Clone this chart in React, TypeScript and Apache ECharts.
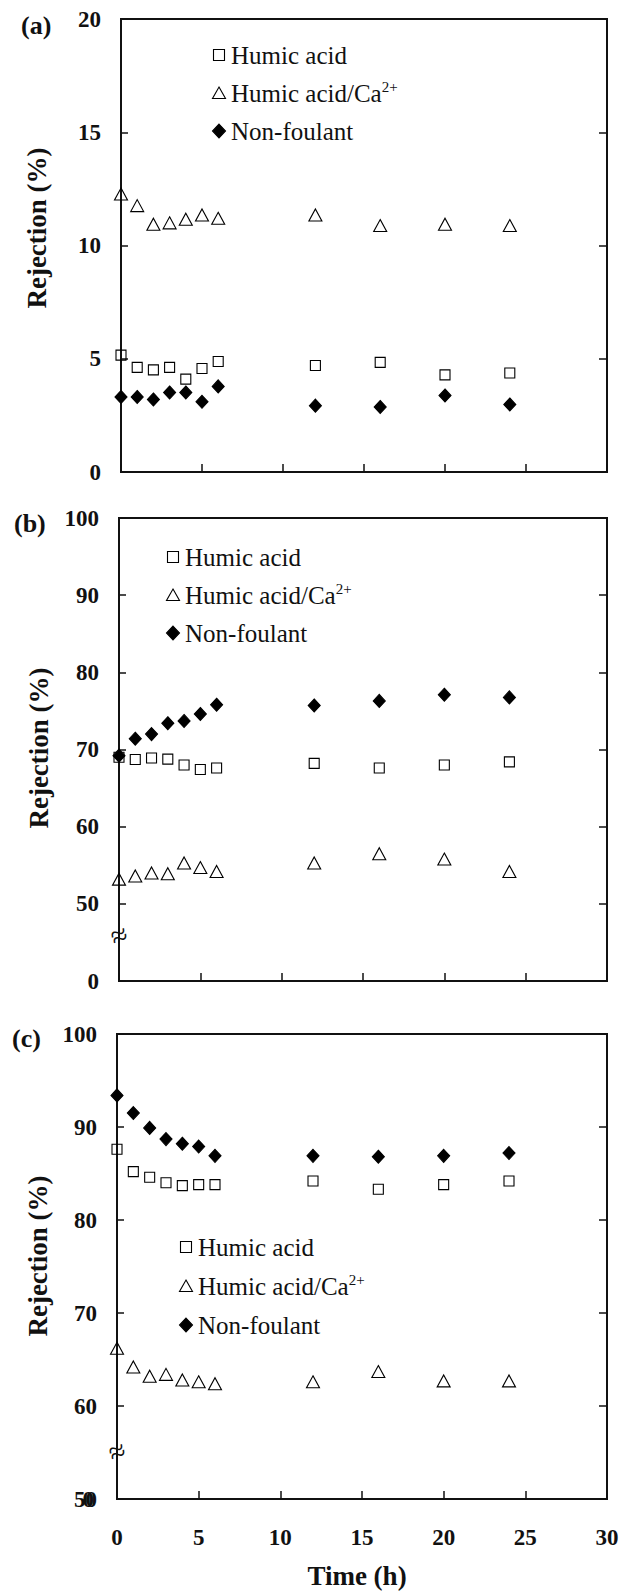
import React, { useEffect, useRef } from 'react';
import * as echarts from 'echarts';

// Time points (h)
const times = [0, 1, 2, 3, 4, 5, 6, 12, 16, 20, 24];

// Panel (a)
const aHumic = [5.16, 4.62, 4.51, 4.62, 4.1, 4.57, 4.88, 4.7, 4.84, 4.29, 4.37];
const aHumicCa = [12.27, 11.76, 10.94, 11.0, 11.16, 11.35, 11.2, 11.35, 10.88, 10.94, 10.88];
const aNon = [3.31, 3.31, 3.2, 3.51, 3.51, 3.1, 3.78, 2.93, 2.87, 3.38, 2.98];

// Panel (b)
const bHumic = [69.0, 68.7, 68.9, 68.75, 68.0, 67.4, 67.6, 68.2, 67.6, 68.0, 68.4];
const bHumicCa = [53.2, 53.6, 54.0, 53.9, 55.3, 54.7, 54.2, 55.3, 56.5, 55.8, 54.2];
const bNon = [69.2, 71.4, 72.0, 73.4, 73.7, 74.6, 75.8, 75.7, 76.3, 77.1, 76.75];

// Panel (c)
const cHumic = [87.6, 85.2, 84.6, 84.0, 83.7, 83.8, 83.8, 84.2, 83.3, 83.8, 84.2];
const cHumicCa = [66.2, 64.2, 63.2, 63.4, 62.8, 62.6, 62.4, 62.6, 63.7, 62.7, 62.7];
const cNon = [93.4, 91.5, 89.9, 88.7, 88.2, 87.9, 86.9, 86.9, 86.8, 86.9, 87.2];

const seriesNames = ['Humic acid', 'Humic acid/Ca2+', 'Non-foulant'];
const panelLabels = ['(a)', '(b)', '(c)'];
const xTitle = 'Time (h)';
const yTitle = 'Rejection (%)';

const SERIF = '"Liberation Serif", serif';
const INK = '#111111';

export default function App() {
  const ref = useRef<HTMLDivElement>(null);

  useEffect(() => {
    document.body.style.margin = '0';
    const chart = echarts.init(ref.current!, null, { renderer: 'svg' });

    const panels = [
      {
        grid: { left: 121, top: 19, width: 486, height: 453 },
        yMin: 0, yMax: 20, yInt: 5,
        fmt: (v: number) => String(v),
        data: [aHumic, aHumicCa, aNon],
        legend: { mx: 219, tx: 231, rows: [55, 93, 131] },
        showX: false,
        label: { x: 21, y: 25 },
        title: { x: 37, y: 228 },
      },
      {
        grid: { left: 119, top: 518, width: 488, height: 463 },
        yMin: 40, yMax: 100, yInt: 10,
        fmt: (v: number) => (v === 40 ? '0' : String(v)),
        data: [bHumic, bHumicCa, bNon],
        legend: { mx: 173, tx: 185, rows: [557, 595, 633] },
        showX: false,
        label: { x: 14, y: 523 },
        title: { x: 39, y: 748 },
      },
      {
        grid: { left: 117, top: 1034, width: 490, height: 465 },
        yMin: 50, yMax: 100, yInt: 10,
        fmt: (v: number) => String(v),
        data: [cHumic, cHumicCa, cNon],
        legend: { mx: 186, tx: 198, rows: [1247, 1286, 1325] },
        showX: true,
        label: { x: 12, y: 1038 },
        title: { x: 38, y: 1256 },
      },
    ];

    const symbolDefs = [
      { symbol: 'rect', size: [10, 10], fill: 'rgba(255,255,255,0)' },
      { symbol: 'triangle', size: [13, 12], fill: 'rgba(255,255,255,0)' },
      { symbol: 'diamond', size: [12, 13], fill: '#000000' },
    ];

    const grids: any[] = [];
    const xAxes: any[] = [];
    const yAxes: any[] = [];
    const series: any[] = [];
    const graphics: any[] = [];

    const legendIcon = (si: number, x: number, y: number) => {
      const stroke = { stroke: '#000000', lineWidth: 1.1 };
      if (si === 0) {
        return { type: 'rect', shape: { x: x - 5.5, y: y - 5.5, width: 11, height: 11 }, style: { fill: 'none', ...stroke } };
      }
      if (si === 1) {
        return {
          type: 'polygon',
          shape: { points: [[x, y - 6], [x + 6.5, y + 5.5], [x - 6.5, y + 5.5]] },
          style: { fill: 'none', ...stroke },
        };
      }
      return {
        type: 'polygon',
        shape: { points: [[x, y - 7], [x + 6.5, y], [x, y + 7], [x - 6.5, y]] },
        style: { fill: '#000000', ...stroke },
      };
    };

    panels.forEach((p, pi) => {
      grids.push({
        ...p.grid,
        show: true,
        borderColor: INK,
        borderWidth: 2,
        backgroundColor: 'transparent',
      });
      xAxes.push({
        type: 'value',
        gridIndex: pi,
        min: 0,
        max: 30,
        interval: 5,
        axisLine: { show: true, onZero: false, lineStyle: { color: INK, width: 2 } },
        axisTick: { show: true, inside: true, length: 8, lineStyle: { color: INK, width: 1.5 } },
        axisLabel: {
          show: p.showX,
          fontFamily: SERIF,
          fontWeight: 'bold',
          fontSize: 23,
          color: INK,
          margin: 27,
        },
        splitLine: { show: false },
      });
      yAxes.push({
        type: 'value',
        gridIndex: pi,
        position: 'left',
        min: p.yMin,
        max: p.yMax,
        interval: p.yInt,
        axisLine: { show: true, onZero: false, lineStyle: { color: INK, width: 2 } },
        axisTick: { show: true, inside: true, length: 7, lineStyle: { color: INK, width: 1.5 } },
        axisLabel: {
          show: true,
          fontFamily: SERIF,
          fontWeight: 'bold',
          fontSize: 23,
          color: INK,
          margin: 20,
          formatter: p.fmt,
        },
        splitLine: { show: false },
      });
      yAxes.push({
        type: 'value',
        gridIndex: pi,
        position: 'right',
        min: p.yMin,
        max: p.yMax,
        interval: p.yInt,
        axisLine: { show: true, onZero: false, lineStyle: { color: INK, width: 2 } },
        axisTick: { show: true, inside: true, length: 8, lineStyle: { color: INK, width: 1.5 } },
        axisLabel: { show: false },
        splitLine: { show: false },
      });

      p.data.forEach((arr, si) => {
        const s = symbolDefs[si];
        series.push({
          type: 'scatter',
          name: seriesNames[si],
          xAxisIndex: pi,
          yAxisIndex: pi * 2,
          symbol: s.symbol,
          symbolSize: s.size,
          itemStyle: { color: s.fill, borderColor: '#000000', borderWidth: 1.1, opacity: 1 },
          emphasis: { disabled: true },
          data: times.map((t, i) => [t, arr[i]]),
          z: 3,
        });
      });

      // legend (drawn as graphic so the serif face is honoured)
      seriesNames.forEach((name, si) => {
        const y = p.legend.rows[si];
        graphics.push(legendIcon(si, p.legend.mx, y));
        const isCa = name === 'Humic acid/Ca2+';
        graphics.push({
          type: 'text',
          x: p.legend.tx,
          y,
          style: {
            text: isCa ? '{n|Humic acid/Ca}{sup|2+}' : '{n|' + name + '}',
            fill: INK,
            align: 'left',
            verticalAlign: 'middle',
            fontFamily: SERIF,
            fontSize: 25,
            rich: {
              n: { fontFamily: SERIF, fontSize: 25, fill: INK, color: INK, lineHeight: 28 },
              sup: { fontFamily: SERIF, fontSize: 15, fill: INK, color: INK, verticalAlign: 'top', lineHeight: 16 },
            },
          },
        });
      });

      graphics.push({
        type: 'text',
        x: p.label.x,
        y: p.label.y,
        style: {
          text: panelLabels[pi],
          fontFamily: SERIF,
          fontWeight: 'bold',
          fontSize: 26,
          fill: INK,
          align: 'left',
          verticalAlign: 'middle',
        },
      });
      graphics.push({
        type: 'text',
        x: p.title.x,
        y: p.title.y,
        rotation: Math.PI / 2,
        style: {
          text: yTitle,
          fontFamily: SERIF,
          fontWeight: 'bold',
          fontSize: 27,
          fill: INK,
          align: 'center',
          verticalAlign: 'middle',
        },
      });
    });

    // axis-break marks
    graphics.push({
      type: 'text',
      x: 119,
      y: 935,
      rotation: 0.35,
      style: { text: '≈', fontFamily: SERIF, fontSize: 30, fill: INK, align: 'center', verticalAlign: 'middle' },
    });
    graphics.push({
      type: 'text',
      x: 117,
      y: 1451,
      rotation: 0.35,
      style: { text: '≈', fontFamily: SERIF, fontSize: 30, fill: INK, align: 'center', verticalAlign: 'middle' },
    });
    // overlapped "0" on the bottom label of panel (c)
    graphics.push({
      type: 'text',
      x: 94,
      y: 1499,
      style: { text: '0', fontFamily: SERIF, fontWeight: 'bold', fontSize: 23, fill: INK, align: 'right', verticalAlign: 'middle' },
    });
    // x-axis title
    graphics.push({
      type: 'text',
      x: 357,
      y: 1576,
      style: { text: xTitle, fontFamily: SERIF, fontWeight: 'bold', fontSize: 27, fill: INK, align: 'center', verticalAlign: 'middle' },
    });

    chart.setOption({
      animation: false,
      backgroundColor: '#ffffff',
      textStyle: { fontFamily: SERIF },
      grid: grids,
      xAxis: xAxes,
      yAxis: yAxes,
      series,
      graphic: graphics,
    });

    return () => chart.dispose();
  }, []);

  return (
    <div
      ref={ref}
      style={{ position: 'absolute', left: 0, top: 0, width: 635, height: 1592 }}
    />
  );
}
